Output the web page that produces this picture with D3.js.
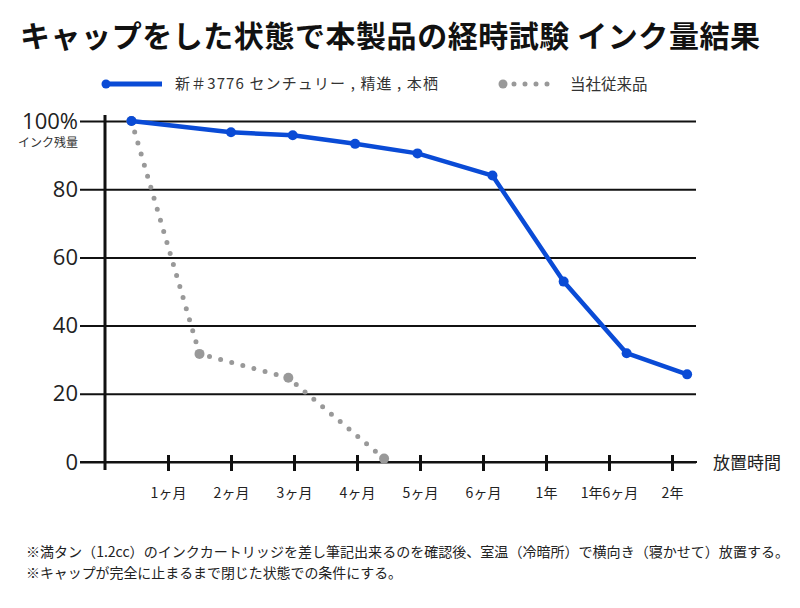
<!DOCTYPE html>
<html>
<head>
<meta charset="utf-8">
<script src="https://cdn.jsdelivr.net/npm/d3@7"></script>
<style>
  body { margin: 0; background: #fff; }
  svg { display: block; }
</style>
</head>
<body>
<svg id="chart" width="800" height="608"></svg>
<script>
// values (x = position in tick units, 0 = axis origin)
const xTickLabels = ["1ヶ月", "2ヶ月", "3ヶ月", "4ヶ月", "5ヶ月", "6ヶ月", "1年", "1年6ヶ月", "2年"]
const yTicks = [0, 20, 40, 60, 80, 100]
const yTickLabels = ["0", "20", "40", "60", "80", "100%"]

const newPos = [0.42, 2.0, 2.98, 3.97, 4.96, 6.15, 7.28, 8.28, 9.24]
const newInk = [100, 96.7, 95.8, 93.3, 90.5, 84, 52.9, 31.9, 25.7]
const oldPos = [0.42, 1.5, 2.91, 4.43]
const oldInk = [100, 31.7, 24.7, 1]

const seriesNames = ["新＃3776 センチュリー , 精進 , 本栖", "当社従来品"]
const title = "キャップをした状態で本製品の経時試験 インク量結果"
const notes = [
    "※満タン（1.2cc）のインクカートリッジを差し筆記出来るのを確認後、室温（冷暗所）で横向き（寝かせて）放置する。",
    "※キャップが完全に止まるまで閉じた状態での条件にする。"
]

const blue = "#0a4bd6"
const grey = "#999"
const jp = "'Noto Sans CJK JP', sans-serif"

const svg = d3.select('#chart')

const x = d3.scaleLinear().domain([0, 9]).range([105, 672])
const y = d3.scaleLinear().domain([0, 100]).range([462, 121])

// title
svg.append("text")
    .attr("x", 20).attr("y", 47)
    .attr("font-family", jp)
    .attr("font-weight", "bold")
    .attr("font-size", 30)
    .attr("textLength", 740)
    .attr("lengthAdjust", "spacing")
    .attr("fill", "#111")
    .text(title)

// legend
const leg = svg.append("g")
leg.append("line")
    .attr("x1", 106).attr("x2", 162).attr("y1", 84).attr("y2", 84)
    .attr("stroke", blue).attr("stroke-width", 5)
leg.append("circle").attr("cx", 106).attr("cy", 84).attr("r", 4.5).attr("fill", blue)
leg.append("text")
    .attr("x", 175).attr("y", 89)
    .attr("font-family", jp).attr("font-size", 15).attr("fill", "#333")
    .attr("textLength", 263).attr("lengthAdjust", "spacing")
    .text(seriesNames[0])
leg.append("line")
    .attr("x1", 503).attr("x2", 550).attr("y1", 84).attr("y2", 84)
    .attr("stroke", grey).attr("stroke-width", 5)
    .attr("stroke-linecap", "round")
    .attr("stroke-dasharray", "0 11")
leg.append("circle").attr("cx", 503).attr("cy", 84).attr("r", 4.5).attr("fill", grey)
leg.append("text")
    .attr("x", 570).attr("y", 90)
    .attr("font-family", jp).attr("font-size", 15.5).attr("fill", "#333")
    .text(seriesNames[1])

// horizontal grid + y labels
const yAxis = svg.append("g")
    .attr("transform", "translate(80,0)")
    .call(d3.axisLeft(y)
        .tickValues(yTicks)
        .tickSize(-616)
        .tickPadding(2)
        .tickFormat((d, i) => yTickLabels[i]))
yAxis.select(".domain").remove()
yAxis.selectAll(".tick line").attr("stroke", "#111").attr("stroke-width", 2)
yAxis.selectAll(".tick text")
    .attr("font-family", "'Open Sans', sans-serif")
    .attr("font-size", 22)
    .attr("fill", "#222")

svg.append("text")
    .attr("x", 78).attr("y", 147)
    .attr("text-anchor", "end")
    .attr("font-family", jp).attr("font-size", 12).attr("fill", "#333")
    .text("インク残量")

// vertical axis line
svg.append("line")
    .attr("x1", 105).attr("x2", 105).attr("y1", 115).attr("y2", 470)
    .attr("stroke", "#111").attr("stroke-width", 3)

// x axis ticks + labels
const xAxis = svg.append("g")
    .attr("transform", "translate(0," + y(0) + ")")
    .call(d3.axisBottom(x)
        .tickValues(d3.range(1, 10))
        .tickFormat(i => xTickLabels[i - 1]))
xAxis.select(".domain").remove()
xAxis.selectAll(".tick line")
    .attr("y1", -7).attr("y2", 9)
    .attr("stroke", "#111").attr("stroke-width", 3)
xAxis.selectAll(".tick text")
    .attr("y", 36).attr("dy", null)
    .attr("font-family", jp).attr("font-size", 14).attr("fill", "#222")

svg.append("line")
    .attr("x1", 80).attr("x2", 697).attr("y1", y(0)).attr("y2", y(0))
    .attr("stroke", "#111").attr("stroke-width", 2)

svg.append("text")
    .attr("x", 713).attr("y", 469)
    .attr("font-family", jp).attr("font-size", 17).attr("fill", "#222")
    .text("放置時間")

// old product: dotted grey
let line = d3.line()
    .x(d => x(d[0]))
    .y(d => y(d[1]))

const oldData = oldPos.map((p, i) => [p, oldInk[i]])
svg.append("path")
    .datum(oldData)
    .attr("fill", "none")
    .attr("stroke", grey)
    .attr("stroke-width", 5)
    .attr("stroke-linecap", "round")
    .attr("stroke-dasharray", "0 11.5")
    .attr("d", line)
svg.selectAll(".oldpt")
    .data(oldData)
    .enter().append("circle")
    .attr("class", "oldpt")
    .attr("cx", d => x(d[0]))
    .attr("cy", d => y(d[1]))
    .attr("r", 5)
    .attr("fill", grey)

// new product: solid blue
const newData = newPos.map((p, i) => [p, newInk[i]])
svg.append("path")
    .datum(newData)
    .attr("fill", "none")
    .attr("stroke", blue)
    .attr("stroke-width", 4.5)
    .attr("stroke-linejoin", "round")
    .attr("d", line)
svg.selectAll(".newpt")
    .data(newData)
    .enter().append("circle")
    .attr("class", "newpt")
    .attr("cx", d => x(d[0]))
    .attr("cy", d => y(d[1]))
    .attr("r", 5)
    .attr("fill", blue)

// footnotes
const noteWidths = [763, 376]
svg.selectAll(".note")
    .data(notes)
    .enter().append("text")
    .attr("class", "note")
    .attr("x", 26)
    .attr("y", (d, i) => 557 + i * 21)
    .attr("font-family", jp).attr("font-size", 14).attr("fill", "#222")
    .attr("textLength", (d, i) => noteWidths[i])
    .attr("lengthAdjust", "spacingAndGlyphs")
    .text(d => d)
</script>
</body>
</html>
